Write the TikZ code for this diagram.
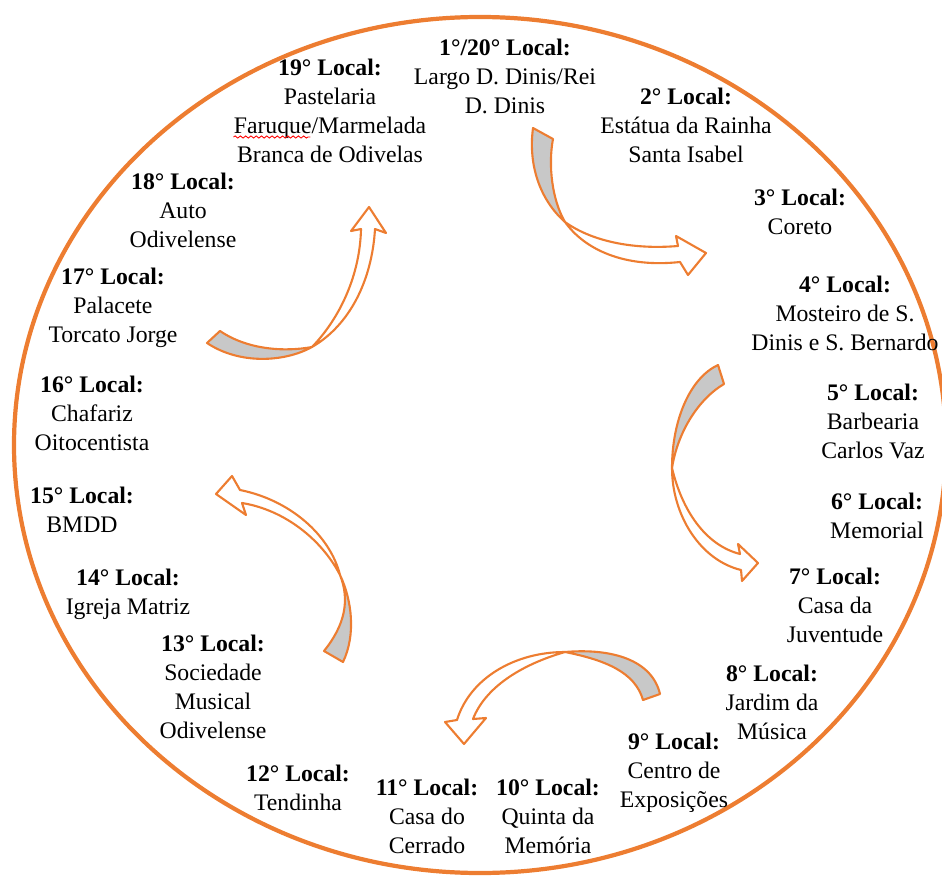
\documentclass[tikz,border=0pt]{standalone}
\usepackage{fontspec}
\setmainfont{Liberation Serif}
\usetikzlibrary{decorations.pathmorphing}
\definecolor{orng}{RGB}{237,125,49}
\definecolor{backgray}{RGB}{200,200,200}

\begin{document}
\begin{tikzpicture}[x=0.02cm,y=-0.02cm,
  loc/.style={align=center,anchor=north,inner sep=0pt,font=\fontsize{13.5}{16.5}\selectfont},
  back/.style={fill=backgray,draw=orng,line width=1.2pt,line join=round},
  front/.style={fill=white,draw=orng,line width=1.2pt,line join=round}]
\useasboundingbox (0,0) rectangle (942,878);
\draw[orng,line width=2.4pt] (480,445) ellipse [x radius=466, y radius=428];

% the stops, clockwise from the top
\node[loc] (l1) at (505,39) {\textbf{1°/20° Local:}\\Largo D. Dinis/Rei\\D. Dinis};
\node[loc] (l2) at (686,88) {\textbf{2° Local:}\\Estátua da Rainha\\Santa Isabel};
\node[loc] (l3) at (800,189) {\textbf{3° Local:}\\Coreto};
\node[loc] (l4) at (845,276) {\textbf{4° Local:}\\Mosteiro de S.\\Dinis e S. Bernardo};
\node[loc] (l5) at (873,384) {\textbf{5° Local:}\\Barbearia\\Carlos Vaz};
\node[loc] (l6) at (877,493) {\textbf{6° Local:}\\Memorial};
\node[loc] (l7) at (835,568) {\textbf{7° Local:}\\Casa da\\Juventude};
\node[loc] (l8) at (772,665) {\textbf{8° Local:}\\Jardim da\\Música};
\node[loc] (l9) at (674,733) {\textbf{9° Local:}\\Centro de\\Exposições};
\node[loc] (l10) at (548,779) {\textbf{10° Local:}\\Quinta da\\Memória};
\node[loc] (l11) at (427,779) {\textbf{11° Local:}\\Casa do\\Cerrado};
\node[loc] (l12) at (298,765) {\textbf{12° Local:}\\Tendinha};
\node[loc] (l13) at (213,635) {\textbf{13° Local:}\\Sociedade\\Musical\\Odivelense};
\node[loc] (l14) at (128,569) {\textbf{14° Local:}\\Igreja Matriz};
\node[loc] (l15) at (82,487) {\textbf{15° Local:}\\BMDD};
\node[loc] (l16) at (92,376) {\textbf{16° Local:}\\Chafariz\\Oitocentista};
\node[loc] (l17) at (113,268) {\textbf{17° Local:}\\Palacete\\Torcato Jorge};
\node[loc] (l18) at (183,173) {\textbf{18° Local:}\\Auto\\Odivelense};
\node[loc] (l19) at (330,59) {\textbf{19° Local:}\\Pastelaria\\Faruque/Marmelada\\Branca de Odivelas};

% spell-check mark
\coordinate (wv) at (0,137);
\draw[red,line width=0.5pt,decorate,decoration={snake,amplitude=0.6pt,segment length=3pt}] (l19.west |- wv) -- ++(77,0);

% curved arrows
\filldraw[back] (533,128) .. controls (528,165) and (540,200) .. (565,222) .. controls (552,200) and (548,165) .. (553,139) -- cycle;
\filldraw[front] (565,222) .. controls (590,240) and (630,250) .. (678,246) -- (676,236) -- (706,253) -- (688,275) -- (680,262) .. controls (625,268) and (585,250) .. (565,222) -- cycle;

\filldraw[back] (718,365) .. controls (690,378) and (672,420) .. (672,468) .. controls (678,430) and (700,398) .. (724,384) -- cycle;
\filldraw[front] (672,468) .. controls (672,515) and (700,560) .. (741,570) -- (742,581) -- (758,563) -- (738,544) -- (740,554) .. controls (705,545) and (682,510) .. (672,468) -- cycle;

\filldraw[back] (660,694) .. controls (652,660) and (612,648) .. (565,652) .. controls (605,660) and (635,672) .. (643,700) -- cycle;
\filldraw[front] (565,652) .. controls (515,652) and (470,678) .. (457,720) -- (445,722) -- (464,744) -- (486,718) -- (473,719) .. controls (485,688) and (520,665) .. (565,652) -- cycle;

\filldraw[back] (324,651) .. controls (345,625) and (350,600) .. (340,575) .. controls (352,600) and (356,635) .. (343,662) -- cycle;
\filldraw[front] (340,575) .. controls (330,535) and (290,500) .. (240,490) -- (232,476) -- (216,494) -- (246,515) -- (242,503) .. controls (285,510) and (322,540) .. (340,575) -- cycle;

\filldraw[back] (207,343) .. controls (240,365) and (285,362) .. (312,347) .. controls (285,352) and (248,350) .. (220,331) -- cycle;
\filldraw[front] (312,347) .. controls (350,325) and (372,280) .. (375,229) -- (386,233) -- (369,207) -- (351,231) -- (361,229) .. controls (360,275) and (340,318) .. (312,347) -- cycle;
\end{tikzpicture}
\end{document}
